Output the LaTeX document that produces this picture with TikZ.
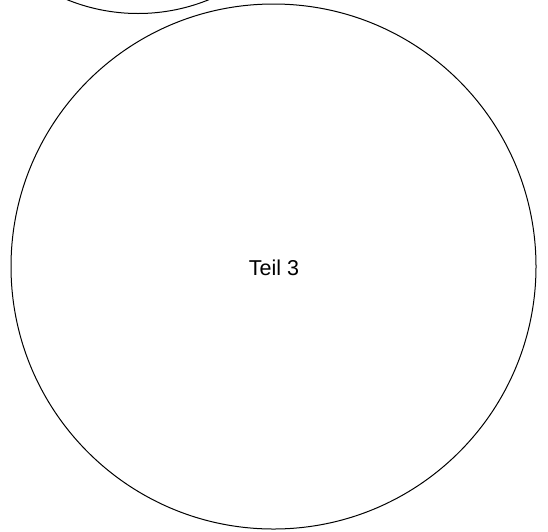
\documentclass[tikz,border=0pt]{standalone}
\usepackage{fontspec}
\setmainfont{Liberation Sans}
\begin{document}
\begin{tikzpicture}[x=1pt,y=-1pt,
  part/.style={draw=black,line width=1pt,circle,inner sep=0pt},
  lbl/.style={font=\fontsize{21.5}{25}\selectfont}]
\useasboundingbox (0,0) rectangle (548,531);
\begin{scope}
\clip (0,0) rectangle (548,531);
\node[part,minimum size=376pt] (p2) at (138,-174.5) {};
\end{scope}
\node[part,minimum size=525pt] (p3) at (273.5,266.5) {};
\node[lbl] (t3) at (274,268) {Teil 3};
\end{tikzpicture}
\end{document}
